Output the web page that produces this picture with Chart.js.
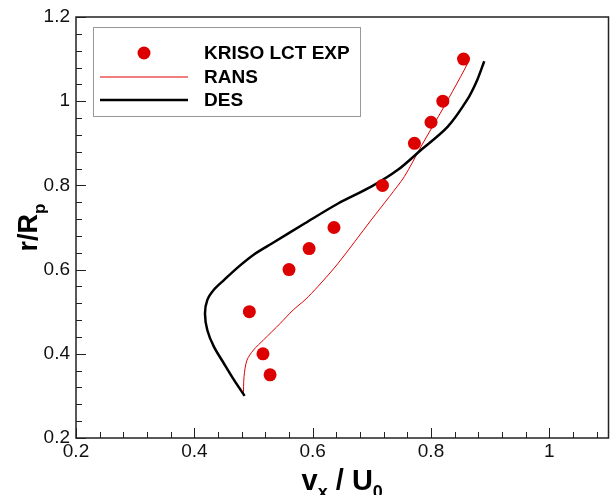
<!DOCTYPE html>
<html>
<head>
<meta charset="utf-8">
<script src="https://cdn.jsdelivr.net/npm/chart.js@4/dist/chart.umd.min.js"></script>
<style>
  html, body { margin: 0; padding: 0; background: #fff; }
  #wrap { width: 615px; height: 495px; }
</style>
</head>
<body>
<div id="wrap"><canvas id="profileCanvas"></canvas></div>
<script>
// measured points
const expX = [0.855, 0.820, 0.800, 0.772, 0.718, 0.636, 0.594, 0.560, 0.493, 0.516, 0.528];
const expY = [1.10, 1.00, 0.95, 0.90, 0.80, 0.70, 0.65, 0.60, 0.50, 0.40, 0.35];

// RANS profile
const ransX = [0.483, 0.484, 0.489, 0.500, 0.517, 0.545, 0.567, 0.587, 0.609, 0.643, 0.699, 0.730, 0.755, 0.783, 0.822, 0.850, 0.862];
const ransY = [0.300, 0.346, 0.385, 0.409, 0.433, 0.472, 0.504, 0.528, 0.560, 0.615, 0.718, 0.774, 0.821, 0.892, 0.987, 1.058, 1.090];

// DES profile
const desX = [0.485, 0.467, 0.450, 0.433, 0.422, 0.418, 0.422, 0.433, 0.450, 0.475, 0.502, 0.531, 0.587, 0.643, 0.699, 0.744, 0.783, 0.828, 0.861, 0.878, 0.890];
const desY = [0.300, 0.338, 0.377, 0.417, 0.456, 0.496, 0.528, 0.552, 0.575, 0.607, 0.637, 0.662, 0.710, 0.757, 0.797, 0.837, 0.884, 0.939, 1.003, 1.050, 1.095];

const seriesNames = ['KRISO LCT EXP', 'RANS', 'DES'];
const xTickValues = [0.2, 0.4, 0.6, 0.8, 1];
const yTickValues = [0.2, 0.4, 0.6, 0.8, 1, 1.2];

const FONT = "'Liberation Sans', Arial, Helvetica, sans-serif";

function toPoints(xs, ys) {
  return xs.map((x, i) => ({ x, y: ys[i] }));
}

function fmtTick(v) {
  return String(Number(v.toFixed(2)));
}

// box, inward minor/major ticks, axis titles, legend
const framePlugin = {
  id: 'frame',
  afterDraw(chart) {
    const ctx = chart.ctx;
    const a = chart.chartArea;
    const xs = chart.scales.x, ys = chart.scales.y;
    ctx.save();

    ctx.strokeStyle = '#222';
    ctx.lineWidth = 1;
    ctx.beginPath();
    for (let i = 0; i <= 22; i++) {
      const px = Math.round(xs.getPixelForValue(0.2 + i * 0.04)) + 0.5;
      const len = i % 5 === 0 ? 10 : 6;
      ctx.moveTo(px, a.bottom);
      ctx.lineTo(px, a.bottom - len);
    }
    for (let i = 0; i <= 25; i++) {
      const py = Math.round(ys.getPixelForValue(0.2 + i * 0.04)) + 0.5;
      const len = i % 5 === 0 ? 10 : 6;
      ctx.moveTo(a.left, py);
      ctx.lineTo(a.left + len, py);
    }
    ctx.stroke();

    ctx.lineWidth = 1.5;
    ctx.strokeRect(a.left, a.top, a.right - a.left, a.bottom - a.top);

    // x title: v_x / U_0
    ctx.fillStyle = '#000';
    ctx.textBaseline = 'alphabetic';
    ctx.textAlign = 'left';
    const big = 'bold 29px ' + FONT, small = 'bold 18px ' + FONT;
    const parts = [['v', big, 0], ['x', small, 8], [' / U', big, 0], ['0', small, 8]];
    let w = 0;
    parts.forEach(p => { ctx.font = p[1]; w += ctx.measureText(p[0]).width; });
    let cx = (a.left + a.right) / 2 - w / 2;
    const base = 490;
    parts.forEach(p => {
      ctx.font = p[1];
      ctx.fillText(p[0], cx, base + p[2]);
      cx += ctx.measureText(p[0]).width;
    });

    // y title: r/R_p
    ctx.save();
    ctx.translate(37, (a.top + a.bottom) / 2);
    ctx.rotate(-Math.PI / 2);
    const yparts = [['r/R', 'bold 27px ' + FONT, 0], ['p', 'bold 17px ' + FONT, 8]];
    w = 0;
    yparts.forEach(p => { ctx.font = p[1]; w += ctx.measureText(p[0]).width; });
    cx = -w / 2;
    yparts.forEach(p => {
      ctx.font = p[1];
      ctx.fillText(p[0], cx, p[2]);
      cx += ctx.measureText(p[0]).width;
    });
    ctx.restore();

    // legend
    ctx.fillStyle = '#fff';
    ctx.fillRect(93, 27, 267, 89);
    ctx.strokeStyle = '#999';
    ctx.lineWidth = 1;
    ctx.strokeRect(93.5, 27.5, 267, 89);
    const rows = [53, 77, 100];
    const order = [2, 0, 1];
    ctx.font = 'bold 19px ' + FONT;
    ctx.textBaseline = 'middle';
    rows.forEach((ry, i) => {
      const ds = chart.data.datasets[order[i]];
      if (ds.showLine) {
        ctx.strokeStyle = ds.borderColor;
        ctx.lineWidth = ds.borderWidth;
        ctx.beginPath();
        ctx.moveTo(100, ry);
        ctx.lineTo(188, ry);
        ctx.stroke();
      } else {
        ctx.fillStyle = ds.pointBackgroundColor;
        ctx.beginPath();
        ctx.arc(144, ry, ds.pointRadius, 0, Math.PI * 2);
        ctx.fill();
      }
      ctx.fillStyle = '#000';
      ctx.fillText(ds.label, 204, ry + 1);
    });

    ctx.restore();
  }
};

const chartConfig = {
  type: 'scatter',
  data: {
    datasets: [
      {
        label: seriesNames[1],
        data: toPoints(ransX, ransY),
        showLine: true,
        borderColor: '#e00000',
        borderWidth: 1,
        pointRadius: 0,
        tension: 0.3,
        order: 2
      },
      {
        label: seriesNames[2],
        data: toPoints(desX, desY),
        showLine: true,
        borderColor: '#000',
        borderWidth: 2.5,
        pointRadius: 0,
        tension: 0.3,
        order: 1
      },
      {
        label: seriesNames[0],
        data: toPoints(expX, expY),
        showLine: false,
        pointRadius: 6.5,
        pointBackgroundColor: '#dd0000',
        pointBorderWidth: 0,
        order: 0
      }
    ]
  },
  options: {
    responsive: false,
    animation: false,
    layout: { padding: { left: 0, top: 17, right: 1, bottom: 0 } },
    plugins: { legend: { display: false }, tooltip: { enabled: false } },
    scales: {
      x: {
        type: 'linear',
        min: 0.2,
        max: 1.1,
        grid: { display: false, drawTicks: false, tickLength: 0 },
        border: { display: false },
        afterBuildTicks: s => { s.ticks = xTickValues.map(v => ({ value: v })); },
        afterFit: s => { s.height = 57; s.paddingLeft = 0; s.paddingRight = 0; },
        ticks: {
          padding: 2,
          maxRotation: 0,
          color: '#111',
          font: { family: FONT, size: 19 },
          callback: v => fmtTick(v)
        }
      },
      y: {
        type: 'linear',
        min: 0.2,
        max: 1.2,
        grid: { display: false, drawTicks: false, tickLength: 0 },
        border: { display: false },
        afterBuildTicks: s => { s.ticks = yTickValues.map(v => ({ value: v })); },
        afterFit: s => { s.width = 76; s.paddingTop = 0; s.paddingBottom = 0; },
        ticks: {
          padding: 6,
          color: '#111',
          font: { family: FONT, size: 19 },
          callback: v => fmtTick(v)
        }
      }
    }
  },
  plugins: [framePlugin]
};

const canvas = document.getElementById('profileCanvas');
canvas.width = 615;
canvas.height = 495;
new Chart(canvas, chartConfig);
</script>
</body>
</html>
